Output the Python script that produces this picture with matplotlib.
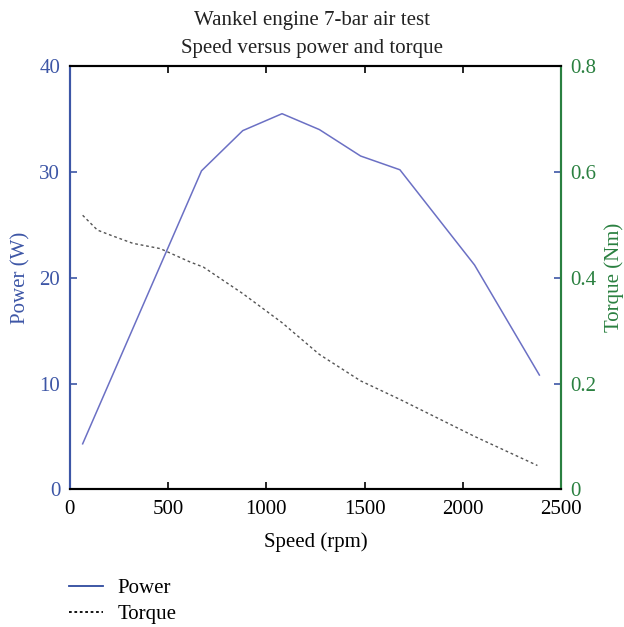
import matplotlib.pyplot as plt
from matplotlib.lines import Line2D

# Wankel engine 7-bar air test: speed vs power and torque

speed_power = [65, 670, 880, 1080, 1270, 1480, 1680, 2060, 2390]
power = [4.3, 30.1, 33.9, 35.5, 34.0, 31.5, 30.2, 21.2, 10.8]

speed_torque = [65, 140, 210, 320, 460, 610, 680, 880, 1080, 1270, 1480, 1680, 2060, 2380]
torque = [0.518, 0.49, 0.48, 0.465, 0.455, 0.43, 0.42, 0.37, 0.315, 0.255, 0.205, 0.17, 0.10, 0.045]

plt.rcParams['font.family'] = ['Liberation Serif', 'DejaVu Serif']
plt.rcParams['font.size'] = 12

blue = '#3d56a6'
green = '#2a8040'

fig = plt.figure(figsize=(6.24, 6.27), dpi=100)
ax = fig.add_axes([0.112, 0.2196, 0.787, 0.675])
ax2 = ax.twinx()

ax.plot(speed_power, power, color='#6b70c4', lw=1.1)
ax2.plot(speed_torque, torque, color='#555555', lw=1.0, linestyle=(0, (2, 2)))

ax.set_xlim(0, 2500)
ax.set_ylim(0, 40)
ax2.set_ylim(0, 0.8)
ax.set_xticks([0, 500, 1000, 1500, 2000, 2500])
ax.set_yticks([0, 10, 20, 30, 40])
ax2.set_yticks([0, 0.2, 0.4, 0.6, 0.8])
ax2.set_yticklabels(['0', '0.2', '0.4', '0.6', '0.8'])

ax.tick_params(axis='x', direction='in', top=True, length=5, width=1.2, colors='black',
               labelsize=15, pad=8)
ax.tick_params(axis='y', direction='in', length=5, width=1.2, colors=blue, labelsize=15, pad=7)
ax2.tick_params(axis='y', direction='in', length=5, width=1.2, colors=blue, labelcolor=green,
                labelsize=15, pad=7)

for a in (ax, ax2):
    a.spines['left'].set_color(blue)
    a.spines['right'].set_color(green)
    a.spines['top'].set_color('black')
    a.spines['bottom'].set_color('black')
    for s in a.spines.values():
        s.set_linewidth(1.5)

ax.set_xlabel('Speed (rpm)', fontsize=15, labelpad=9)
ax.set_ylabel('Power (W)', color=blue, fontsize=15, labelpad=6)
ax2.set_ylabel('Torque (Nm)', color=green, fontsize=15, labelpad=5)

fig.text(0.5, 0.960, 'Wankel engine 7-bar air test', ha='center', va='baseline', fontsize=15,
         color='#222222')
fig.text(0.5, 0.9155, 'Speed versus power and torque', ha='center', va='baseline', fontsize=15,
         color='#222222')

handles = [Line2D([], [], color='#2e4a9e', lw=1.3),
           Line2D([], [], color='black', lw=1.3, linestyle=(0, (1.5, 1.5)))]
fig.legend(handles, ['Power', 'Torque'], loc='upper left', bbox_to_anchor=(0.081, 0.107),
           frameon=False, fontsize=15, handlelength=1.63, handletextpad=0.67,
           labelspacing=0.3)

plt.savefig('out.png', dpi=100)
